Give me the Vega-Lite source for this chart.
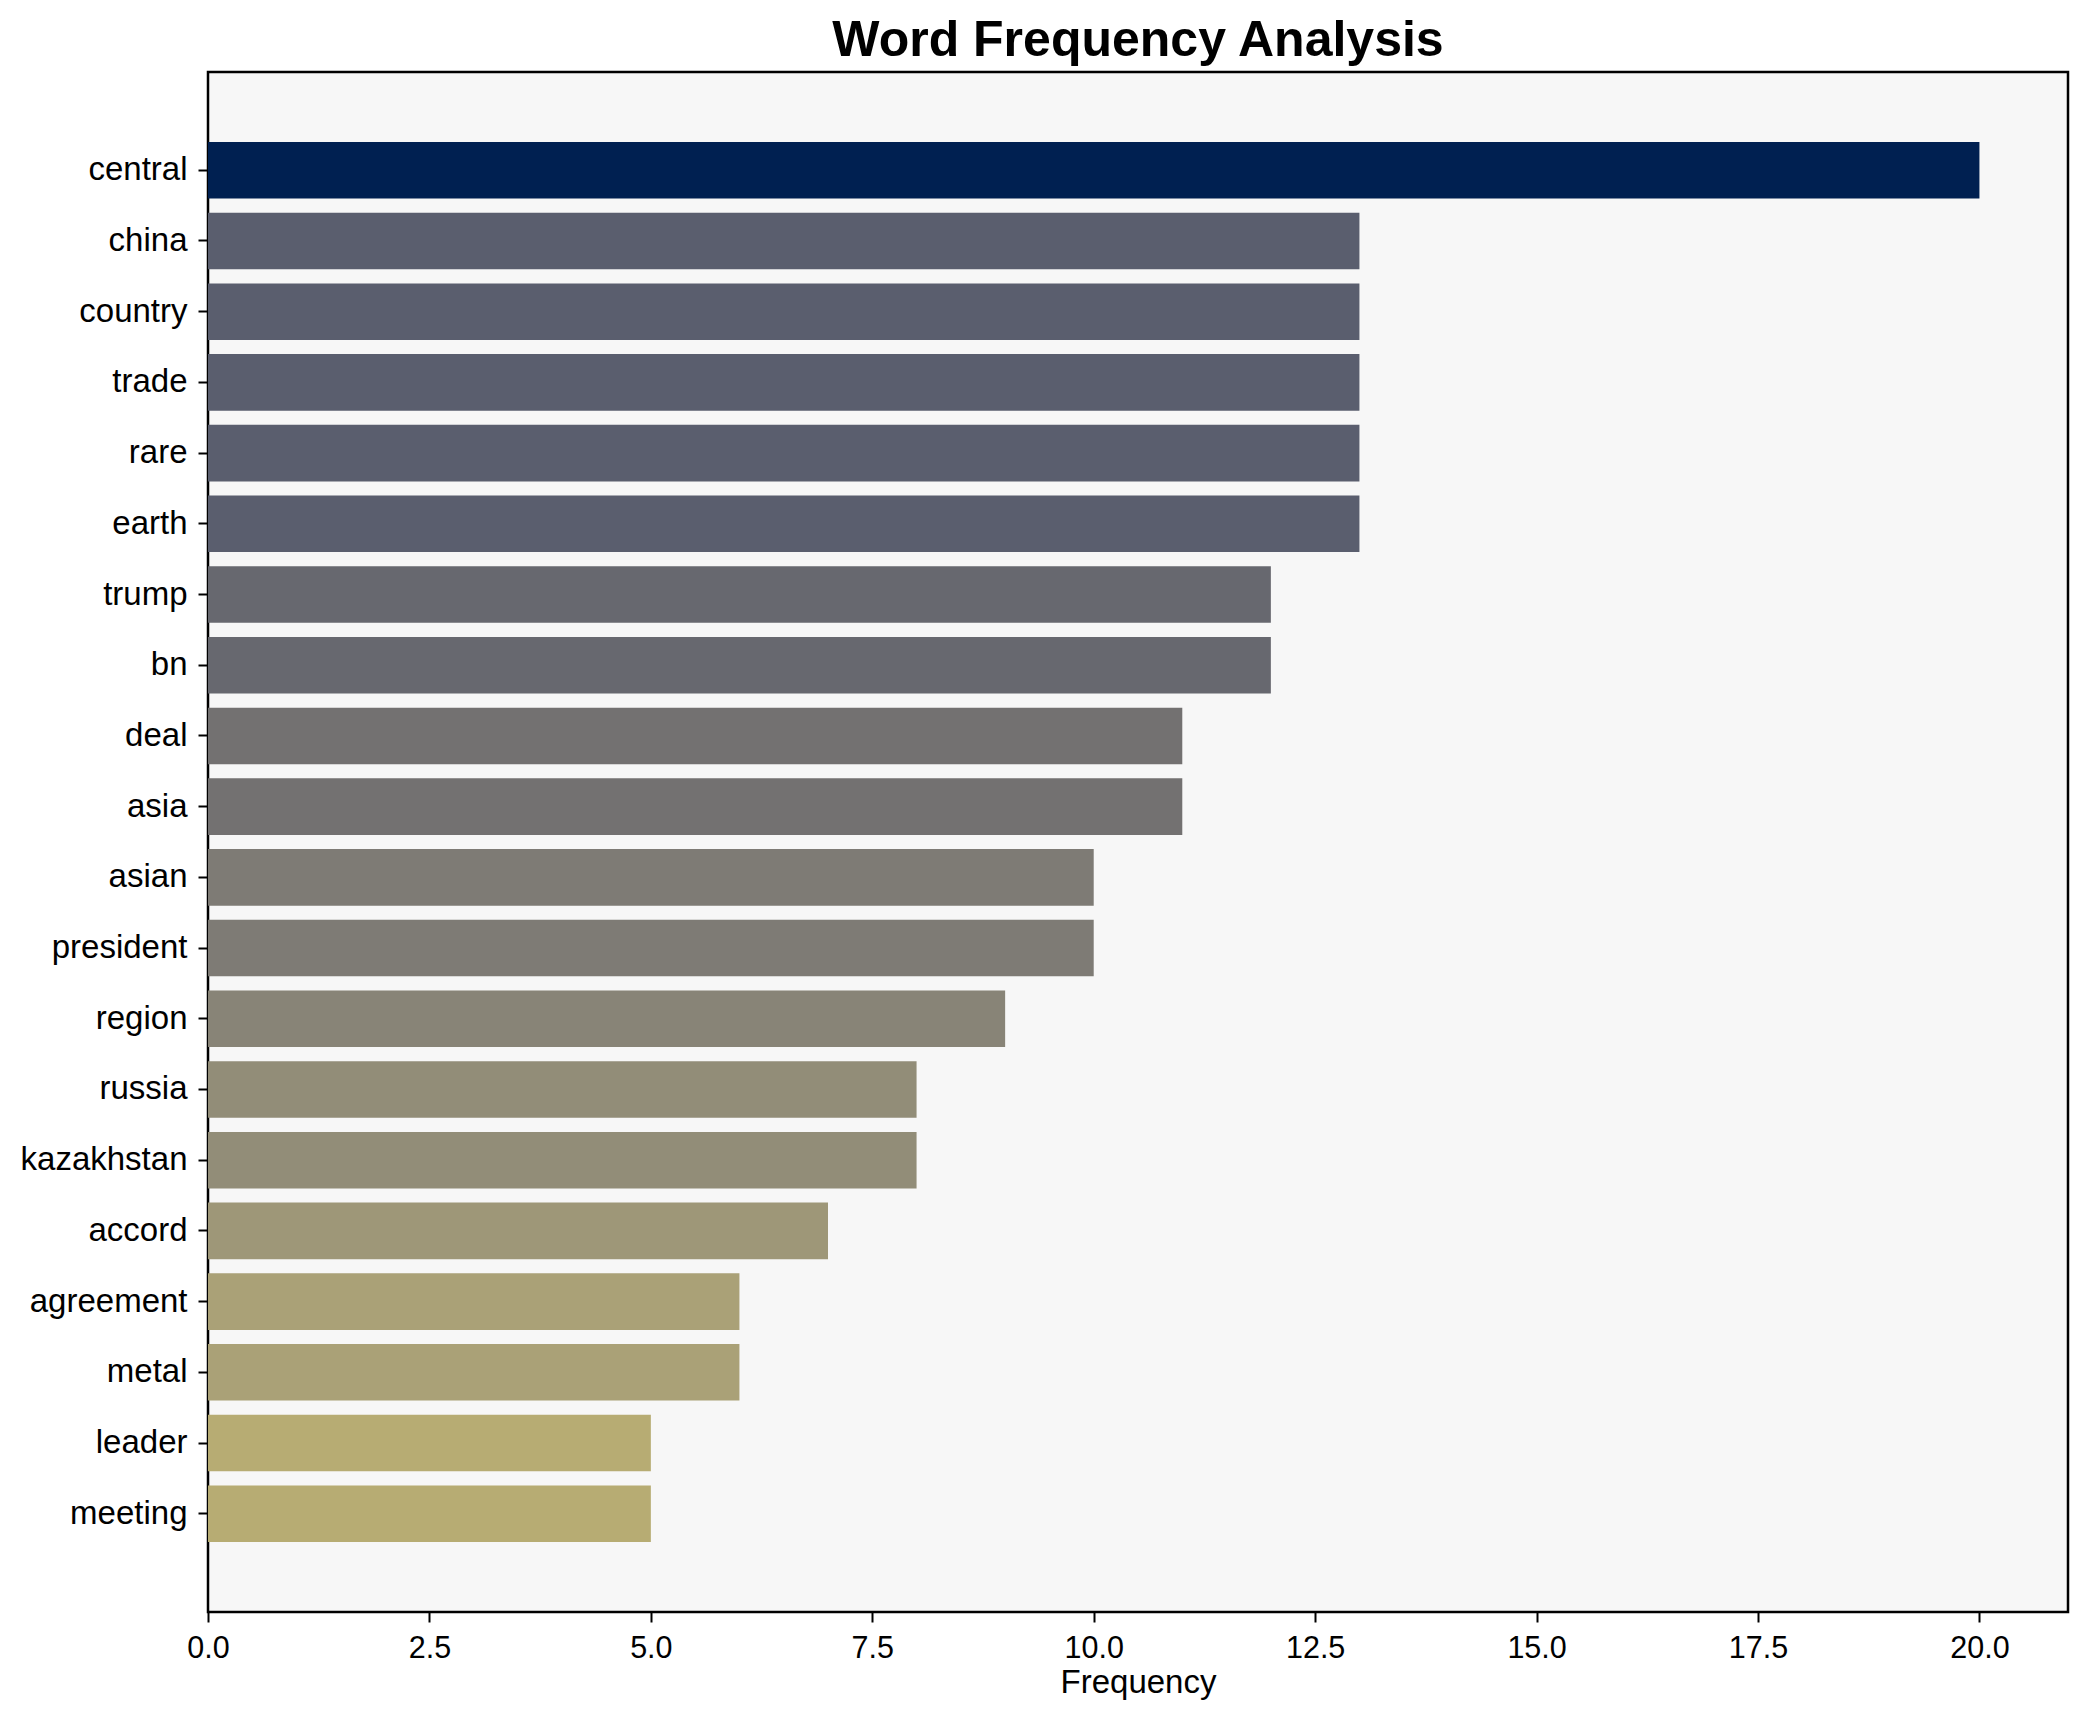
{
  "$schema": "https://vega.github.io/schema/vega-lite/v6.json",
  "width": 1860,
  "height": 1540,
  "autosize": {"type": "none"},
  "padding": {"left": 208, "top": 72, "right": 20, "bottom": 110},
  "background": "white",
  "config": {
    "font": "Liberation Sans",
    "view": {"fill": "#f7f7f7", "stroke": "black", "strokeWidth": 2.5},
    "axis": {"grid": false, "domain": false, "tickColor": "black", "tickWidth": 2, "tickSize": 10, "labelColor": "black", "titleColor": "black", "labelFont": "Liberation Sans", "titleFont": "Liberation Sans"}
  },
  "title": {"text": "Word Frequency Analysis", "fontSize": 50, "fontWeight": "bold", "font": "Liberation Sans", "color": "black", "anchor": "middle", "offset": 6},
  "data": {"values": [
    {"word": "central", "frequency": 20},
    {"word": "china", "frequency": 13},
    {"word": "country", "frequency": 13},
    {"word": "trade", "frequency": 13},
    {"word": "rare", "frequency": 13},
    {"word": "earth", "frequency": 13},
    {"word": "trump", "frequency": 12},
    {"word": "bn", "frequency": 12},
    {"word": "deal", "frequency": 11},
    {"word": "asia", "frequency": 11},
    {"word": "asian", "frequency": 10},
    {"word": "president", "frequency": 10},
    {"word": "region", "frequency": 9},
    {"word": "russia", "frequency": 8},
    {"word": "kazakhstan", "frequency": 8},
    {"word": "accord", "frequency": 7},
    {"word": "agreement", "frequency": 6},
    {"word": "metal", "frequency": 6},
    {"word": "leader", "frequency": 5},
    {"word": "meeting", "frequency": 5}
  ]},
  "mark": {"type": "bar"},
  "encoding": {
    "y": {"field": "word", "type": "nominal", "sort": null,
      "scale": {"paddingInner": 0.2, "paddingOuter": 0.99},
      "axis": {"title": null, "labelFontSize": 33, "labelPadding": 11}},
    "x": {"field": "frequency", "type": "quantitative",
      "scale": {"domain": [0, 21], "nice": false, "zero": true},
      "axis": {"title": "Frequency", "values": [0, 2.5, 5, 7.5, 10, 12.5, 15, 17.5, 20], "format": ".1f", "labelFontSize": 30.5, "titleFontSize": 33, "titleFontWeight": "normal", "labelPadding": 11, "titlePadding": 3, "labelFlush": false}},
    "color": {"field": "frequency", "type": "quantitative", "scale": {"scheme": "cividis", "domain": [20, 0]}, "legend": null}
  }
}
